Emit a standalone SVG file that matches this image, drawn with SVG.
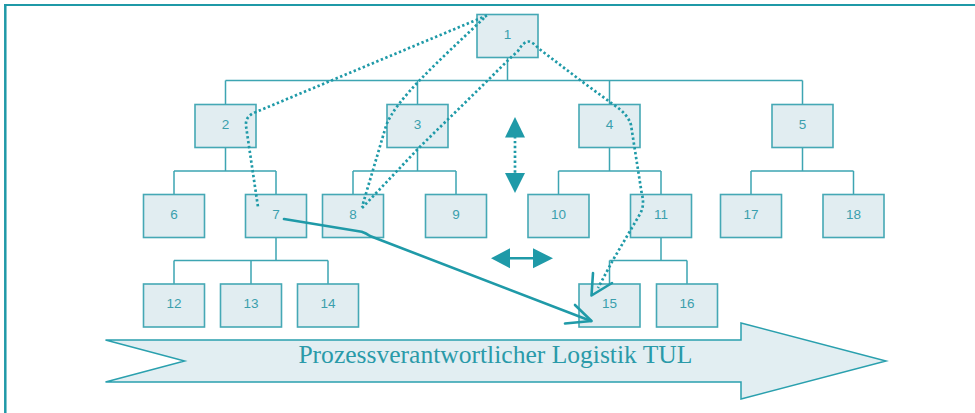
<svg xmlns="http://www.w3.org/2000/svg" width="975" height="413" viewBox="0 0 975 413">
<defs>
<style>
.box rect{fill:#e1edf1;stroke:#45a8b5;stroke-width:1.6}
.box text{font-family:"Liberation Sans",Arial,sans-serif;font-size:13.5px;fill:#3b9fad;text-anchor:middle}
.tree{fill:none;stroke:#3da5b2;stroke-width:1.5}
.dot{fill:none;stroke:#1f9aa8;stroke-width:2.7;stroke-dasharray:2.4 2.5}
.solid{fill:none;stroke:#1f9aa8;stroke-width:2.6;stroke-linejoin:round;stroke-linecap:round}
.head{fill:#1f9aa8;stroke:none}
</style>
</defs>
<rect width="975" height="413" fill="#ffffff"/>
<g id="frame" fill="none" stroke="#1f99a7">
<path d="M4,5 L975,5" stroke-width="2"/>
<path d="M5.3,4 L5.3,413" stroke-width="2.5"/>
</g>
<g id="process-arrow">
<polygon points="105.5,340 741,340 741,323 886,361 741,399 741,382 105.5,382 184.6,361" fill="#e2eef2" stroke="#2aa0ae" stroke-width="1.5"/>
<text x="298.4" y="363" font-family="'Liberation Serif','Times New Roman',serif" font-size="24.5" fill="#2a9aa9" textLength="394" lengthAdjust="spacingAndGlyphs">Prozessverantwortlicher Logistik TUL</text>
</g>
<g id="connectors">
<path class="tree" d="M507.5,57.5 V80.5 M225.5,80.5 H802.5 M225.5,80.5 V104.5 M417.5,80.5 V104.5 M609.5,80.5 V104.5 M802.5,80.5 V104.5"/>
<path class="tree" d="M225.5,147.5 V171 M174,171 H276 M174,171 V194.5 M276,171 V194.5"/>
<path class="tree" d="M417.5,147.5 V171 M353,171 H456 M353,171 V194.5 M456,171 V194.5"/>
<path class="tree" d="M609.5,147.5 V171 M558.5,171 H661 M558.5,171 V194.5 M661,171 V194.5"/>
<path class="tree" d="M802.5,147.5 V171 M751,171 H853.5 M751,171 V194.5 M853.5,171 V194.5"/>
<path class="tree" d="M276,237.5 V260.5 M174,260.5 H328 M174,260.5 V284 M251,260.5 V284 M328,260.5 V284"/>
<path class="tree" d="M661,237.5 V260.5 M609.5,260.5 H687 M609.5,260.5 V284 M687,260.5 V284"/>
</g>
<g id="n1" class="box"><rect x="477" y="14.5" width="61" height="43"/><text x="507.5" y="38.5">1</text></g>
<g id="n2" class="box"><rect x="195" y="104.5" width="61" height="43"/><text x="225.5" y="128.5">2</text></g>
<g id="n3" class="box"><rect x="387" y="104.5" width="61" height="43"/><text x="417.5" y="128.5">3</text></g>
<g id="n4" class="box"><rect x="579" y="104.5" width="61" height="43"/><text x="609.5" y="128.5">4</text></g>
<g id="n5" class="box"><rect x="772" y="104.5" width="61" height="43"/><text x="802.5" y="128.5">5</text></g>
<g id="n6" class="box"><rect x="143.5" y="194.5" width="61" height="43"/><text x="174" y="218.5">6</text></g>
<g id="n7" class="box"><rect x="245.5" y="194.5" width="61" height="43"/><text x="276" y="218.5">7</text></g>
<g id="n8" class="box"><rect x="322.5" y="194.5" width="61" height="43"/><text x="353" y="218.5">8</text></g>
<g id="n9" class="box"><rect x="425.5" y="194.5" width="61" height="43"/><text x="456" y="218.5">9</text></g>
<g id="n10" class="box"><rect x="528" y="194.5" width="61" height="43"/><text x="558.5" y="218.5">10</text></g>
<g id="n11" class="box"><rect x="630.5" y="194.5" width="61" height="43"/><text x="661" y="218.5">11</text></g>
<g id="n17" class="box"><rect x="720.5" y="194.5" width="61" height="43"/><text x="751" y="218.5">17</text></g>
<g id="n18" class="box"><rect x="823" y="194.5" width="61" height="43"/><text x="853.5" y="218.5">18</text></g>
<g id="n12" class="box"><rect x="143.5" y="284" width="61" height="43"/><text x="174" y="308">12</text></g>
<g id="n13" class="box"><rect x="220.5" y="284" width="61" height="43"/><text x="251" y="308">13</text></g>
<g id="n14" class="box"><rect x="297.5" y="284" width="61" height="43"/><text x="328" y="308">14</text></g>
<g id="n15" class="box"><rect x="579" y="284" width="61" height="43"/><text x="609.5" y="308">15</text></g>
<g id="n16" class="box"><rect x="656.5" y="284" width="61" height="43"/><text x="687" y="308">16</text></g>
<g id="flows">
<path class="dot" d="M487,15.5 L256,112 Q245,116 246,126 L258,207"/>
<path class="dot" d="M484,18 C440,60 395,100 386,126 L362,207"/>
<path class="dot" d="M362,208 L420,146.7 L478,90 L510,58.3 L518,51 Q524,41 529,41.5 Q534,43 538,48 L580,80 L613,104.3 Q628,114 631,125 L641.7,193.3 Q645,205 640,214 L613,260 L598,288"/>
<path class="solid" d="M593,273 L591.5,295.5 L612,283"/>
<path class="solid" d="M284,219 L361.7,231.7 Q366,233 370,236 L591,321"/>
<path class="solid" d="M575,305 L591.5,321 L565,323.5"/>
<path class="dot" d="M515,136 V175" stroke-width="3"/>
<polygon class="head" points="515,117 505,137.5 525,137.5"/>
<polygon class="head" points="505,173 525,173 515,193"/>
<path class="solid" d="M508,258.3 H535" stroke-width="3"/>
<polygon class="head" points="491,258.3 510,248.3 510,268.3"/>
<polygon class="head" points="533,248.3 533,268.3 553,258.3"/>
</g>
</svg>
